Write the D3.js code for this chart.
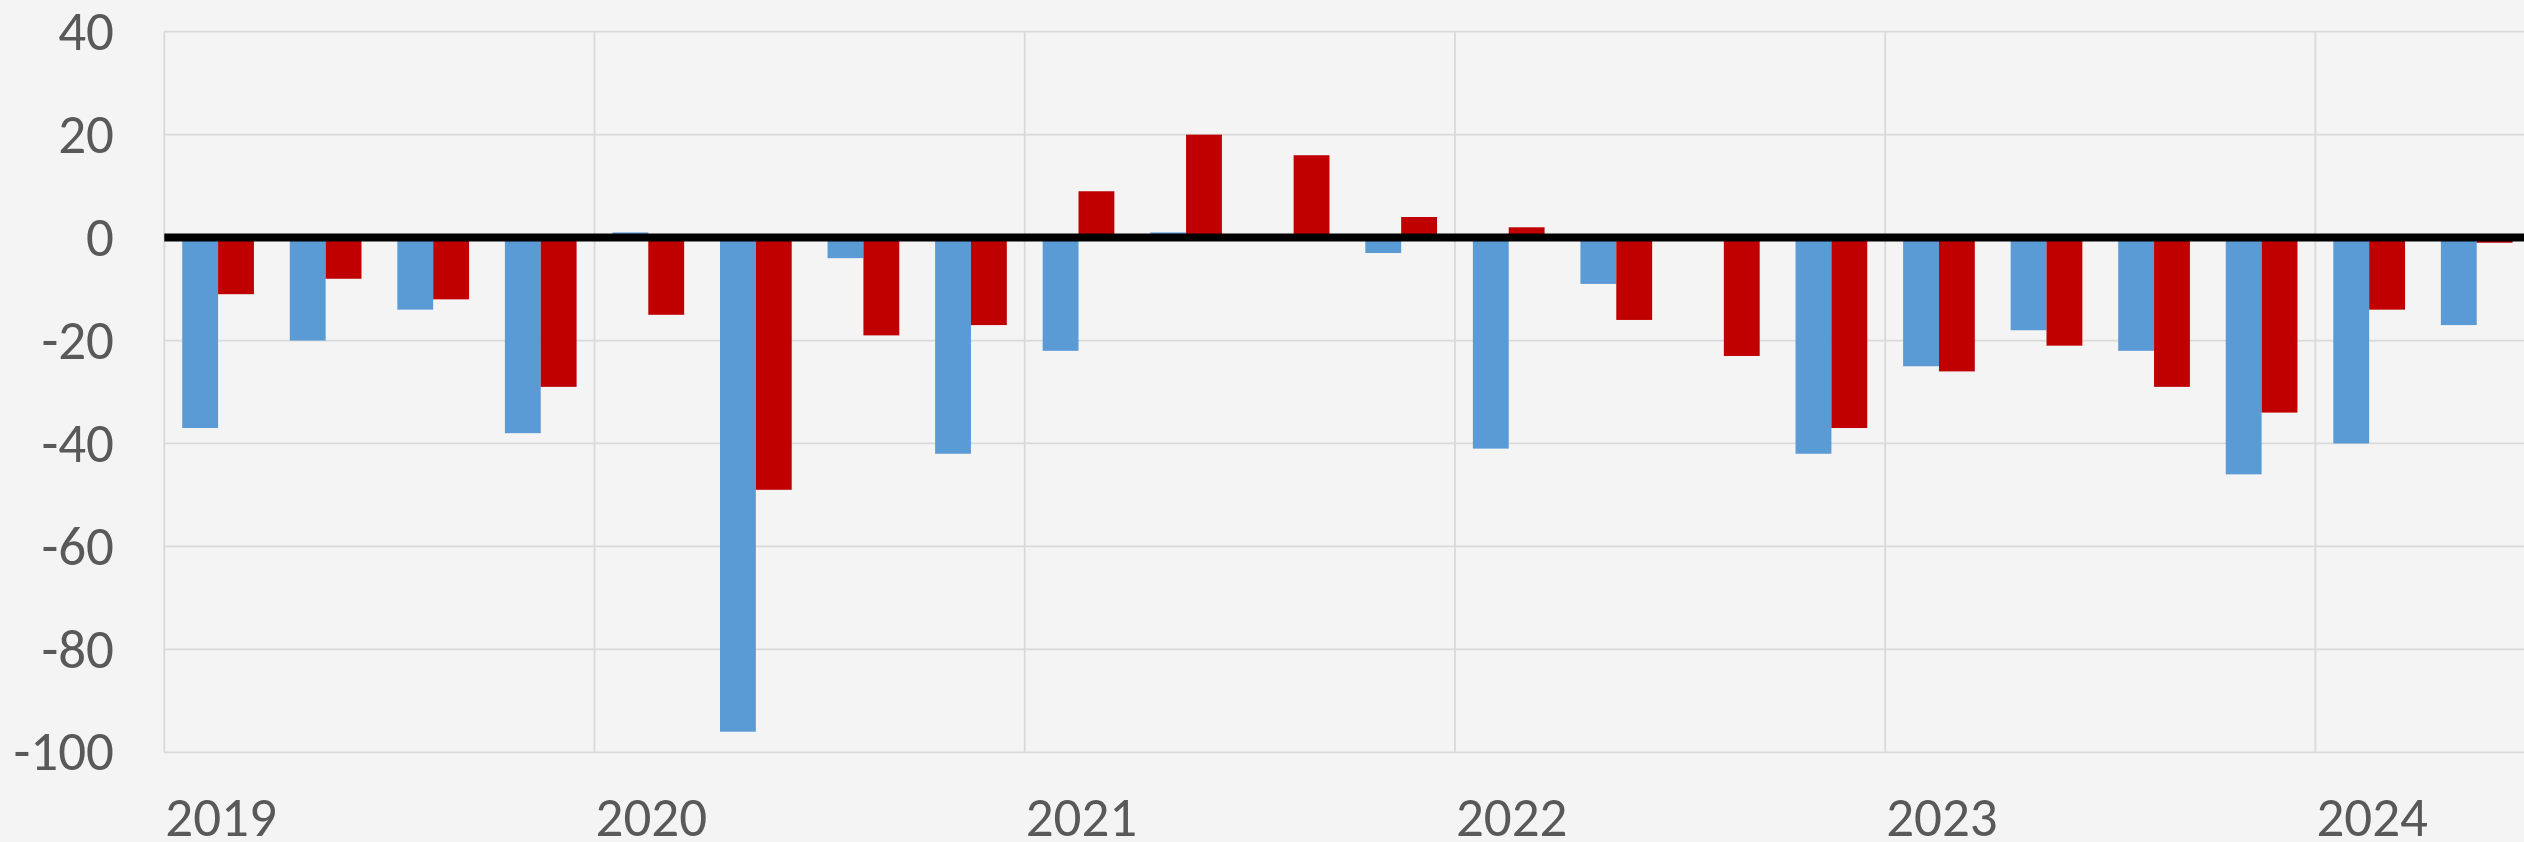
<!DOCTYPE html>
<html>
<head>
<meta charset="utf-8">
<script src="https://cdn.jsdelivr.net/npm/d3@7"></script>
<style>
  html, body { margin: 0; padding: 0; background: #f4f4f4; overflow: hidden; }
  svg { display: block; }
</style>
</head>
<body>
<svg width="2524" height="842"></svg>
<script>
// quarterly values, 2019 Q1 .. 2024 Q2
const quarters = ["2019Q1", "2019Q2", "2019Q3", "2019Q4",
                  "2020Q1", "2020Q2", "2020Q3", "2020Q4",
                  "2021Q1", "2021Q2", "2021Q3", "2021Q4",
                  "2022Q1", "2022Q2", "2022Q3", "2022Q4",
                  "2023Q1", "2023Q2", "2023Q3", "2023Q4",
                  "2024Q1", "2024Q2"];
const years = ["2019", "2020", "2021", "2022", "2023", "2024"];
const blueSeries = [-37, -20, -14, -38, 1, -96, -4, -42, -22, 1, 0, -3,
                    -41, -9, 0, -42, -25, -18, -22, -46, -40, -17];
const redSeries = [-11, -8, -12, -29, -15, -49, -19, -17, 9, 20, 16, 4,
                   2, -16, -23, -37, -26, -21, -29, -34, -14, -1];
const yTicks = [40, 20, 0, -20, -40, -60, -80, -100];

function barchart() {
  const svg = d3.select("svg");

  const margin = {top: 31.7, left: 164.3, bottom: 752.3, right: 2530.5};

  const x = d3.scaleBand()
              .domain(quarters)
              .range([margin.left, margin.right])
              .padding(0);

  const xInner = d3.scaleBand()
                   .domain(["blue", "red"])
                   .range([0, x.bandwidth()])
                   .paddingInner(0)
                   .paddingOuter(0.5);

  const y = d3.scaleLinear()
              .domain([-100, 40])
              .range([margin.bottom, margin.top]);

  const colors = {blue: "#5b9bd5", red: "#c00000"};
  const font = "Carlito, Calibri, Roboto, sans-serif";

  // horizontal gridlines
  svg.append("g")
     .selectAll("line")
     .data(yTicks)
     .enter()
     .append("line")
     .attr("x1", margin.left)
     .attr("x2", margin.right)
     .attr("y1", d => y(d))
     .attr("y2", d => y(d))
     .attr("stroke", "#d9d9d9")
     .attr("stroke-width", 1.8);

  // vertical gridlines at the start of each year
  svg.append("g")
     .selectAll("line")
     .data(years)
     .enter()
     .append("line")
     .attr("x1", d => x(d + "Q1"))
     .attr("x2", d => x(d + "Q1"))
     .attr("y1", margin.top)
     .attr("y2", margin.bottom)
     .attr("stroke", "#d9d9d9")
     .attr("stroke-width", 1.8);

  // bars
  const rows = quarters.map((q, i) => ({q: q, blue: blueSeries[i], red: redSeries[i]}));

  const groups = svg.append("g")
     .selectAll("g")
     .data(rows)
     .enter()
     .append("g")
     .attr("transform", d => "translate(" + x(d.q) + ",0)");

  groups.selectAll("rect")
     .data(d => ["blue", "red"].map(k => ({key: k, value: d[k]})))
     .enter()
     .append("rect")
     .attr("x", d => xInner(d.key))
     .attr("width", xInner.bandwidth())
     .attr("y", d => y(Math.max(0, d.value)))
     .attr("height", d => Math.abs(y(d.value) - y(0)))
     .attr("fill", d => colors[d.key]);

  // zero line
  svg.append("line")
     .attr("x1", margin.left)
     .attr("x2", margin.right)
     .attr("y1", y(0))
     .attr("y2", y(0))
     .attr("stroke", "#000")
     .attr("stroke-width", 8);

  // y axis labels
  svg.append("g")
     .selectAll("text")
     .data(yTicks)
     .enter()
     .append("text")
     .attr("x", 114)
     .attr("y", d => y(d))
     .attr("dy", "0.33em")
     .attr("text-anchor", "end")
     .style("font-family", font)
     .style("font-size", "55px")
     .style("fill", "#595959")
     .text(d => d);

  // x axis labels (years)
  svg.append("g")
     .selectAll("text")
     .data(years)
     .enter()
     .append("text")
     .attr("x", d => x(d + "Q1") + 1)
     .attr("y", 836)
     .style("font-family", font)
     .style("font-size", "55px")
     .style("fill", "#595959")
     .text(d => d);
}

barchart();
</script>
</body>
</html>
